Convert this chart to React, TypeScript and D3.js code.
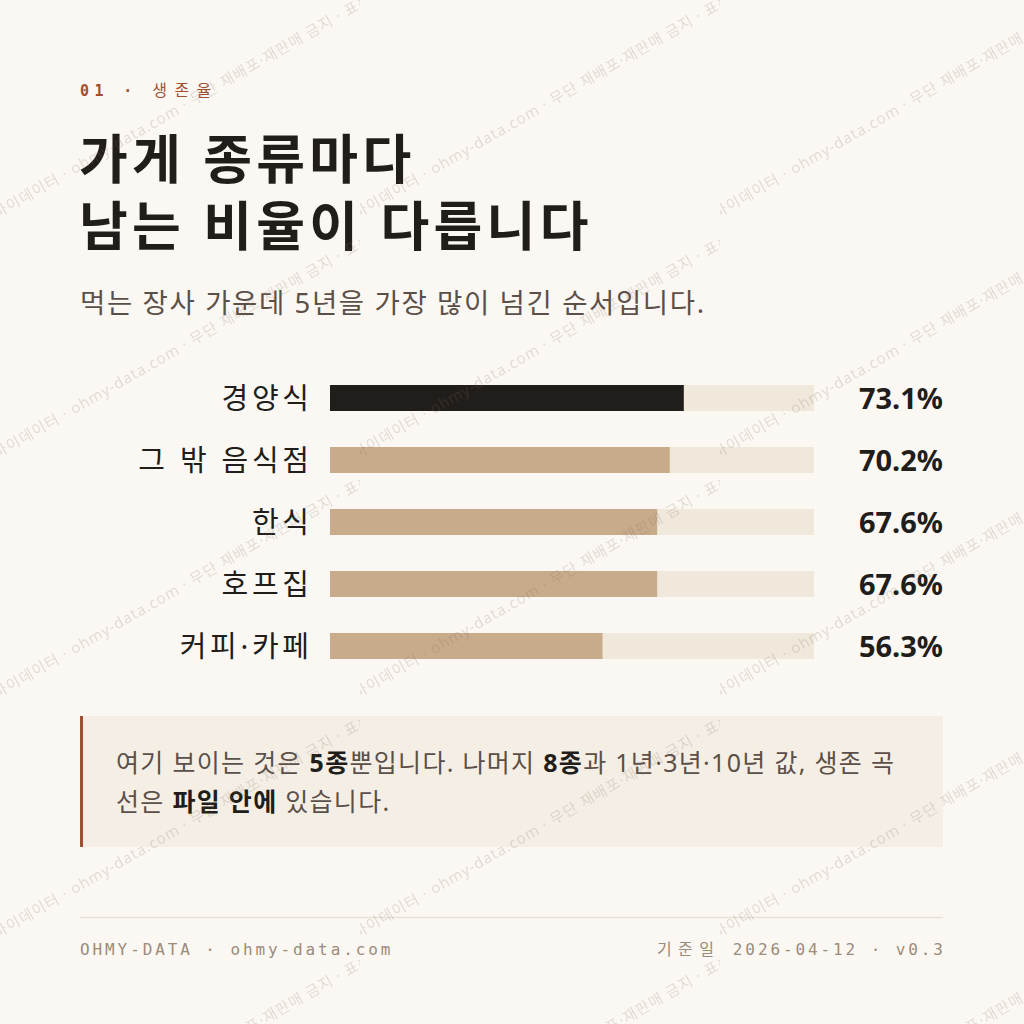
import React, { useRef, useEffect } from 'react';
import * as d3 from 'd3';

// data
const categories = ['경양식', '그 밖 음식점', '한식', '호프집', '커피·카페'];
const survival5y = [73.1, 70.2, 67.6, 67.6, 56.3];
const highlightCategory = '경양식';
const xDomain: [number, number] = [0, 100];

const kickerNum = '01 · ';
const kickerWord = '생존율';
const titleLines = ['가게 종류마다', '남는 비율이 다릅니다'];
const subtitle = '먹는 장사 가운데 5년을 가장 많이 넘긴 순서입니다.';
const noteLine1 = [
  { t: '여기 보이는 것은 ', b: false },
  { t: '5종', b: true },
  { t: '뿐입니다. 나머지 ', b: false },
  { t: '8종', b: true },
  { t: '과 1년·3년·10년 값, 생존 곡', b: false },
];
const noteLine2 = [
  { t: '선은 ', b: false },
  { t: '파일 안에', b: true },
  { t: ' 있습니다.', b: false },
];
const footerLeft = 'OHMY-DATA · ohmy-data.com';
const footerRightKo = '기준일';
const footerRight = ' 2026-04-12 · v0.3';
const watermark = '마이데이터 · ohmy-data.com · 무단 재배포·재판매 금지 · 표본 데이터';

const W = 1024, H = 1024;
const BG = '#FBF8F3';
const INK = '#211D1A';
const TAN = '#C8AB8A';
const TRACK = '#F1E8DC';
const RUST = '#A14F32';
const GREY = '#5B5049';
const MUTED = '#9A8B7A';
const CJK = "'Noto Sans CJK KR', sans-serif";
const LAT = "'Noto Sans', 'Noto Sans CJK KR', sans-serif";
const MONO = "'DejaVu Sans Mono', 'Noto Sans CJK KR', monospace";

type Sel = d3.Selection<any, any, any, any>;

// Hangul from Noto Sans CJK KR, Latin / spaces / punctuation from Noto Sans
function addRuns(t: Sel, text: string) {
  const parts = text.match(/[\uAC00-\uD7A3\u3131-\u318E]+|[^\uAC00-\uD7A3\u3131-\u318E]+/g) || [];
  parts.forEach(p => {
    const ko = /[\uAC00-\uD7A3]/.test(p);
    t.append('tspan').attr('font-family', ko ? CJK : LAT).text(p);
  });
  return t;
}

export default function App() {
  const svgRef = useRef<SVGSVGElement>(null);

  useEffect(() => {
    const svg = d3.select(svgRef.current);
    svg.selectAll('*').remove();

    // watermark tile
    const defs = svg.append('defs');
    const pat = defs.append('pattern')
      .attr('id', 'wm').attr('patternUnits', 'userSpaceOnUse')
      .attr('width', 360).attr('height', 240);
    const wmText = pat.append('text')
      .attr('transform', 'translate(-3,219) rotate(-30)')
      .attr('font-size', 15).attr('letter-spacing', 1)
      .attr('fill', '#7A6A5A').attr('fill-opacity', 0.2);
    addRuns(wmText, watermark);

    svg.append('rect').attr('width', W).attr('height', H).attr('fill', BG);

    // kicker
    const kick = svg.append('text')
      .attr('x', 80).attr('y', 96)
      .attr('font-family', MONO).attr('font-size', 15)
      .attr('letter-spacing', 5.4).attr('fill', RUST);
    kick.append('tspan').attr('font-weight', 700).text(kickerNum);
    kick.append('tspan').attr('font-weight', 400).attr('font-size', 16)
      .attr('letter-spacing', 7.5).attr('font-family', CJK)
      .text(kickerWord);

    // title
    titleLines.forEach((line, i) => {
      const t = svg.append('text')
        .attr('x', 79).attr('y', 179 + i * 67)
        .attr('font-size', 53).attr('font-weight', 700)
        .attr('letter-spacing', 4.3)
        .attr('fill', INK);
      addRuns(t, line);
    });

    const sub = svg.append('text')
      .attr('x', 80).attr('y', 313)
      .attr('font-size', 27.5).attr('font-weight', 400)
      .attr('letter-spacing', 1.6)
      .attr('fill', GREY);
    addRuns(sub, subtitle);

    // bars
    const x = d3.scaleLinear().domain(xDomain).range([330, 814]);
    const y = d3.scalePoint<string>().domain(categories).range([398, 646]);
    const barH = 26;
    const labelLS = 3.7;

    const rows = svg.append('g').selectAll('g')
      .data(categories.map((c, i) => ({ c, v: survival5y[i] })))
      .join('g')
      .attr('transform', d => `translate(0,${y(d.c)})`);

    rows.append('rect')
      .attr('x', x(xDomain[0])).attr('y', -barH / 2)
      .attr('width', x(xDomain[1]) - x(xDomain[0])).attr('height', barH)
      .attr('fill', TRACK);
    rows.append('rect')
      .attr('x', x(0)).attr('y', -barH / 2)
      .attr('width', d => x(d.v) - x(0)).attr('height', barH)
      .attr('fill', d => d.c === highlightCategory ? INK : TAN);
    rows.append('text')
      .attr('x', 309 + labelLS).attr('y', 11)
      .attr('text-anchor', 'end')
      .attr('font-size', 29).attr('font-weight', 400)
      .attr('letter-spacing', labelLS)
      .attr('fill', INK)
      .each(function (d) { addRuns(d3.select(this), d.c); });
    rows.append('text')
      .attr('x', 943).attr('y', 11)
      .attr('text-anchor', 'end')
      .attr('font-family', LAT).attr('font-size', 29).attr('font-weight', 700)
      .attr('fill', INK).text(d => `${d.v.toFixed(1)}%`);

    // callout
    svg.append('rect').attr('x', 80).attr('y', 716).attr('width', 863).attr('height', 131)
      .attr('fill', '#F5EEE5');
    svg.append('rect').attr('x', 80).attr('y', 716).attr('width', 3).attr('height', 131)
      .attr('fill', RUST);
    [noteLine1, noteLine2].forEach((parts, i) => {
      const t = svg.append('text')
        .attr('x', 116).attr('y', 772 + i * 39)
        .attr('font-size', 25).attr('letter-spacing', 1.3);
      parts.forEach(p => {
        const g = t.append('tspan')
          .attr('font-weight', p.b ? 700 : 400)
          .attr('fill', p.b ? INK : GREY);
        addRuns(g, p.t);
      });
    });

    // footer
    svg.append('line').attr('x1', 80).attr('x2', 943).attr('y1', 917.5).attr('y2', 917.5)
      .attr('stroke', '#E9E1D6').attr('stroke-width', 1.5);
    svg.append('text')
      .attr('x', 80).attr('y', 955)
      .attr('font-family', MONO).attr('font-size', 16).attr('letter-spacing', 2.9)
      .attr('fill', MUTED).text(footerLeft);
    const fr = svg.append('text')
      .attr('x', 943 + 2.9).attr('y', 955).attr('text-anchor', 'end')
      .attr('font-family', MONO).attr('font-size', 16).attr('letter-spacing', 2.9)
      .attr('fill', MUTED);
    fr.append('tspan').attr('letter-spacing', 6.4).text(footerRightKo);
    fr.append('tspan').text(footerRight);

    svg.append('rect').attr('width', W).attr('height', H)
      .attr('fill', 'url(#wm)').attr('pointer-events', 'none');
  }, []);

  return (
    <div style={{ width: W, height: H }}>
      <style>{'body{margin:0}'}</style>
      <svg ref={svgRef} width={W} height={H} style={{ display: 'block' }} />
    </div>
  );
}
